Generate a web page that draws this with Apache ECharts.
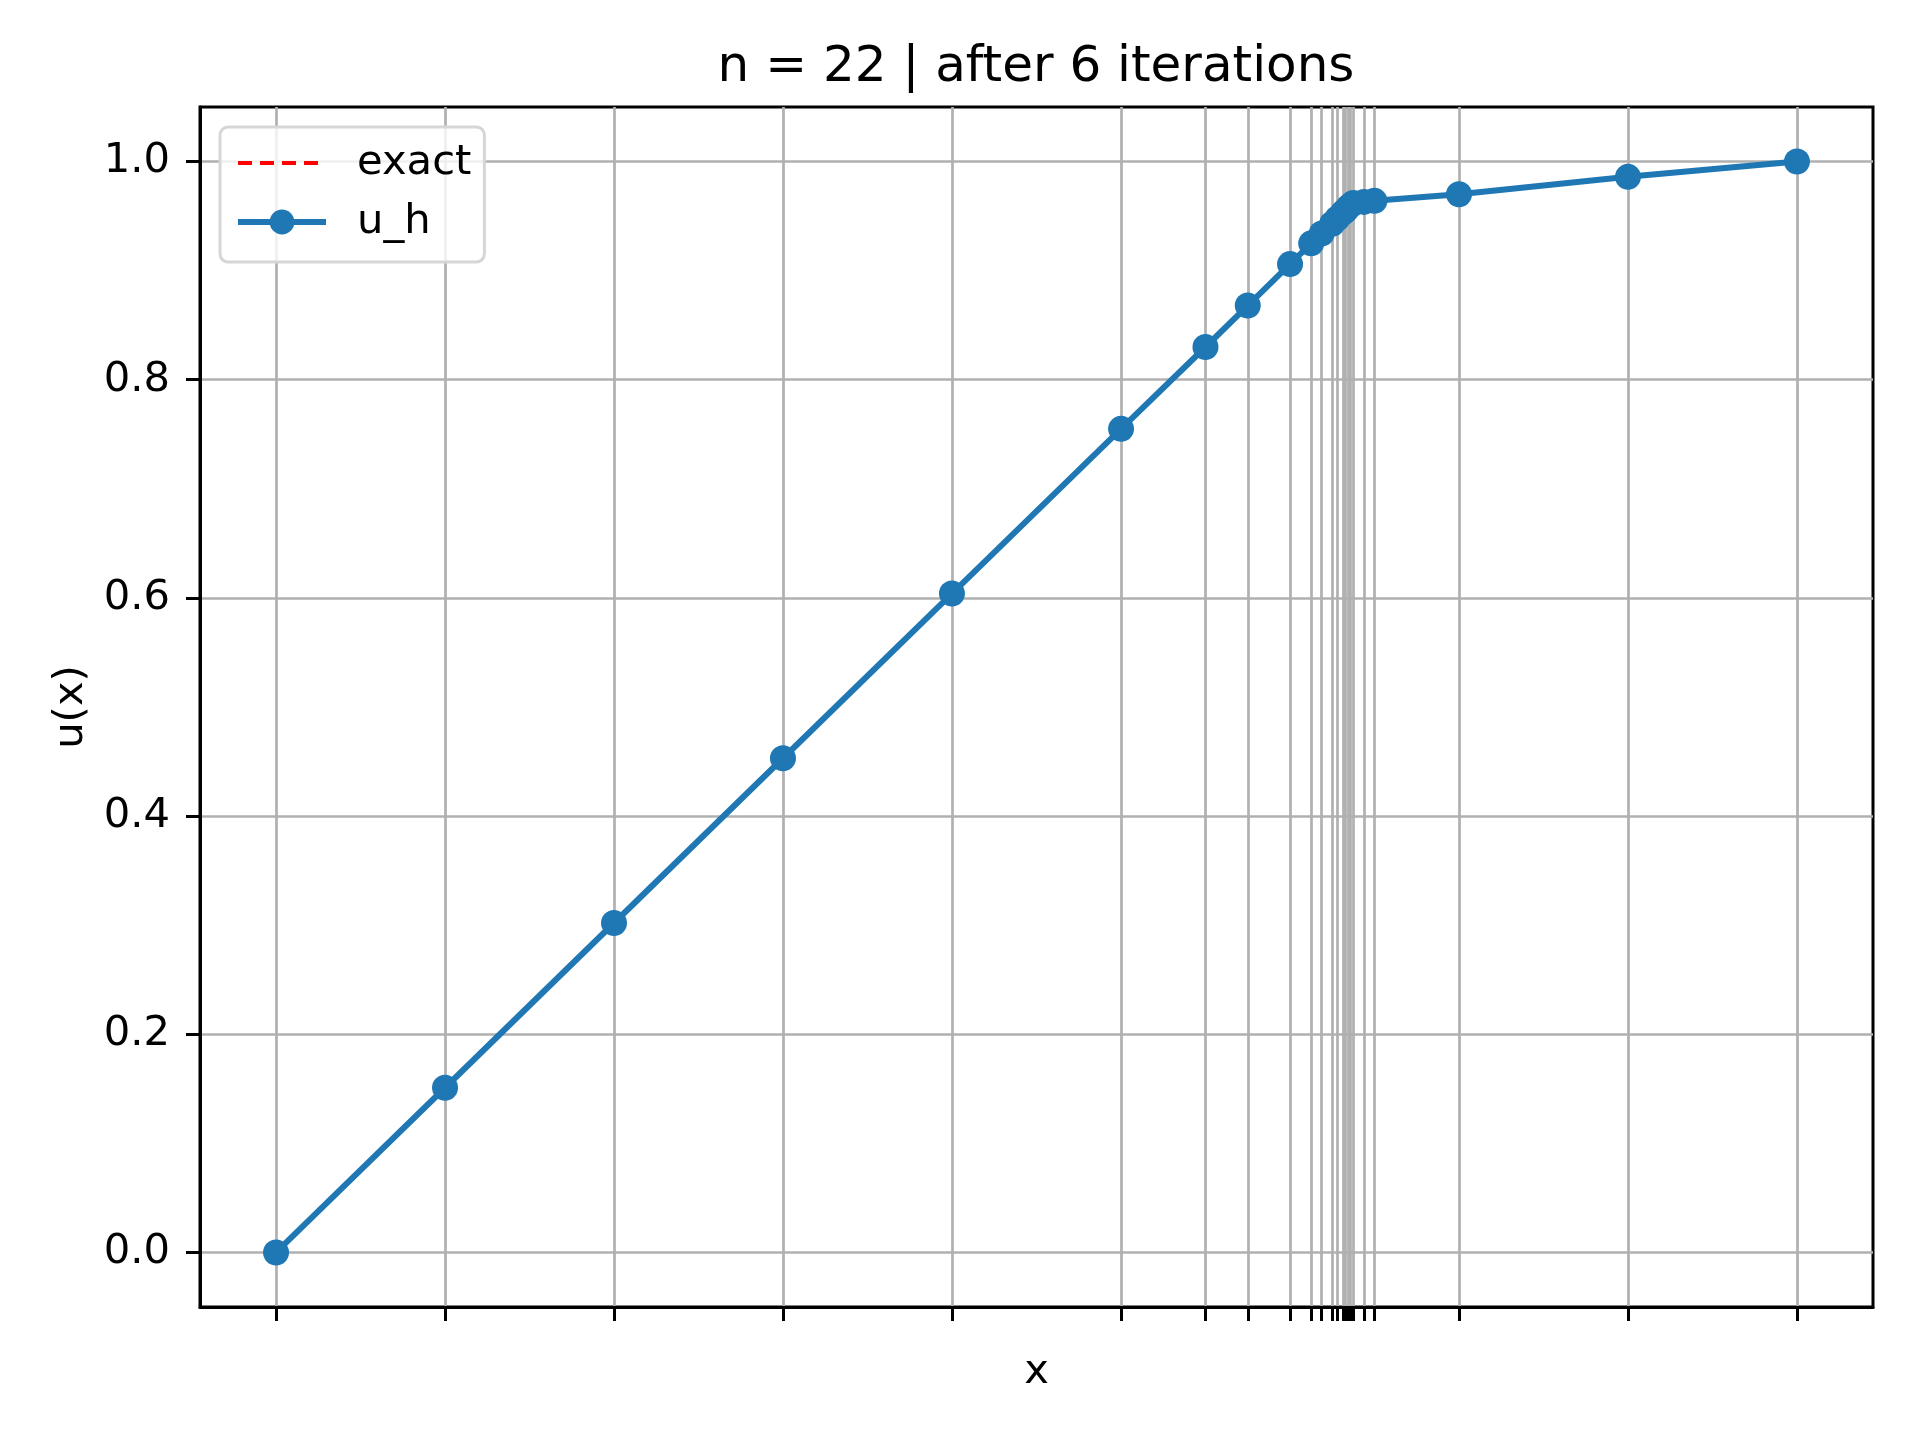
<!DOCTYPE html>
<html>
<head>
<meta charset="utf-8">
<script src="https://cdn.jsdelivr.net/npm/echarts@6/dist/echarts.min.js"></script>
<style>
  html, body { margin: 0; padding: 0; background: #fff; }
  #chart { width: 1920px; height: 1440px; }
</style>
</head>
<body>
<div id="chart"></div>
<script>
// mesh nodes after refinement (x) and the discrete solution u_h at each node
const xNodes = [0, 0.1111, 0.2222, 0.3333, 0.4444, 0.5556, 0.6111, 0.6389, 0.6667,
  0.6806, 0.6875, 0.6944, 0.6979, 0.7014, 0.7031, 0.7049, 0.7066, 0.7083,
  0.7153, 0.7222, 0.7778, 0.8889, 1.0];
const uValues = [0, 0.151, 0.302, 0.453, 0.604, 0.755, 0.830, 0.868, 0.906,
  0.925, 0.934, 0.943, 0.948, 0.953, 0.955, 0.958, 0.960, 0.962,
  0.963, 0.964, 0.970, 0.986, 1.0];
const exactValues = [];
const yTicks = [0, 0.2, 0.4, 0.6, 0.8, 1.0];

const FONT = 'DejaVu Sans';
const chart = echarts.init(document.getElementById('chart'), null, { renderer: 'canvas' });

const uhData = xNodes.map((x, i) => [x, uValues[i]]);
const axisLine = { show: true, onZero: false, lineStyle: { color: '#000', width: 3 } };

chart.setOption({
  animation: false,
  backgroundColor: '#ffffff',
  textStyle: { fontFamily: FONT, color: '#000' },
  title: {
    text: 'n = 22 | after 6 iterations',
    left: 1031,
    top: 38,
    textAlign: 'center',
    textStyle: { fontFamily: FONT, fontSize: 50, fontWeight: 'normal', color: '#000' }
  },
  grid: {
    left: 200, right: 47, top: 107, bottom: 133,
    show: true, borderColor: '#000', borderWidth: 3, backgroundColor: 'transparent'
  },
  legend: {
    left: 220, top: 127,
    orient: 'vertical',
    itemWidth: 88, itemHeight: 31, itemGap: 17,
    padding: [15, 13, 19, 15],
    backgroundColor: 'rgba(255,255,255,0.8)',
    borderColor: '#d6d6d6', borderWidth: 3, borderRadius: 8,
    lineStyle: { width: 'inherit' },
    textStyle: { fontFamily: FONT, fontSize: 41.7, color: '#000', padding: [0, 0, 0, 26] },
    data: ['exact', 'u_h']
  },
  xAxis: {
    type: 'value',
    min: -0.05, max: 1.05,
    name: 'x', nameLocation: 'middle', nameGap: 44,
    nameTextStyle: { fontFamily: FONT, fontSize: 41.7, color: '#000' },
    axisLine: axisLine,
    axisTick: { show: true, customValues: xNodes, length: 14, lineStyle: { color: '#000', width: 3 } },
    axisLabel: { show: false },
    splitLine: { show: true, lineStyle: { color: '#b0b0b0', width: 2.7 } }
  },
  yAxis: {
    type: 'value',
    min: -0.05, max: 1.05,
    name: 'u(x)', nameLocation: 'middle', nameGap: 108,
    nameTextStyle: { fontFamily: FONT, fontSize: 41.7, color: '#000' },
    axisLine: axisLine,
    axisTick: { show: true, customValues: yTicks, length: 14, lineStyle: { color: '#000', width: 3 } },
    axisLabel: {
      customValues: yTicks, margin: 30,
      fontFamily: FONT, fontSize: 41.7, color: '#000',
      formatter: v => Number(v).toFixed(1)
    },
    splitLine: { show: true, lineStyle: { color: '#b0b0b0', width: 2.7 } }
  },
  series: [
    {
      name: 'exact', type: 'line', data: exactValues,
      symbol: 'circle',
      lineStyle: { color: '#ff0000', width: 4, type: [14, 8] },
      itemStyle: { color: 'rgba(0,0,0,0)', borderWidth: 0 }
    },
    {
      name: 'u_h', type: 'line', data: uhData,
      symbol: 'circle', symbolSize: 26,
      lineStyle: { color: '#1f77b4', width: 6 },
      itemStyle: { color: '#1f77b4' },
      z: 3
    }
  ]
});
</script>
</body>
</html>
